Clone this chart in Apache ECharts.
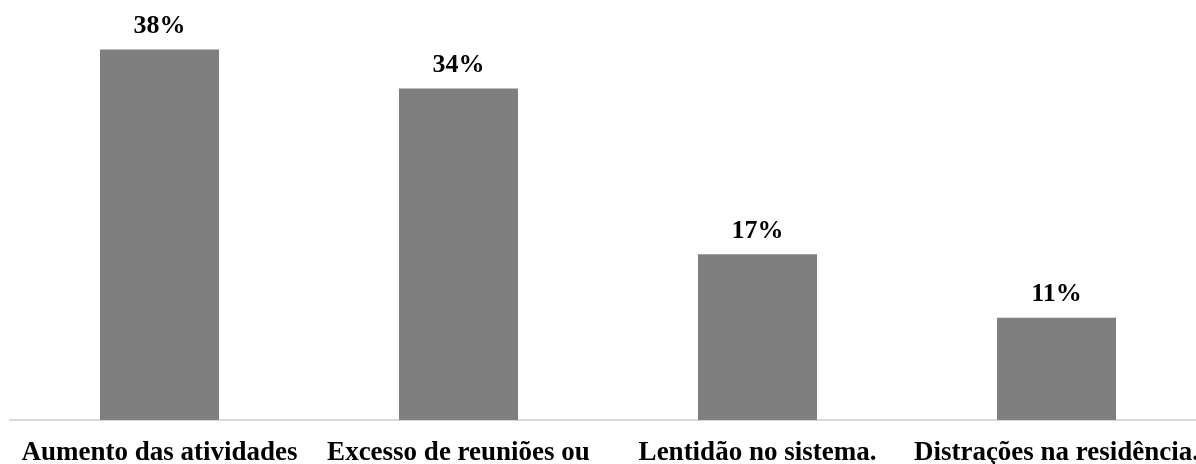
<!DOCTYPE html>
<html>
<head>
<meta charset="utf-8">
<script src="https://cdn.jsdelivr.net/npm/echarts@6/dist/echarts.min.js"></script>
<style>
html,body{margin:0;padding:0;background:#fff;}
#c{width:1196px;height:464px;}
</style>
</head>
<body>
<div id="c"></div>
<script>
const categories = ["Aumento das atividades", "Excesso de reuniões ou", "Lentidão no sistema.", "Distrações na residência."];
const values = [38, 34, 17, 10.5];

const chart = echarts.init(document.getElementById('c'), null, {renderer: 'canvas'});
chart.setOption({
  animation: false,
  grid: {left: 10, right: -10, top: 30, bottom: 44, containLabel: false, outerBoundsMode: 'none'},
  xAxis: {
    type: 'category',
    data: categories,
    axisLine: {show: true, lineStyle: {color: '#d9d9d9', width: 2}},
    axisTick: {show: false},
    axisLabel: {
      interval: 0,
      margin: 20,
      color: '#000',
      fontFamily: '"Liberation Serif", "Times New Roman", serif',
      fontWeight: 'bold',
      fontSize: 27,
      verticalAlign: 'top'
    }
  },
  yAxis: {
    type: 'value',
    min: 0,
    max: 40,
    show: false,
    splitLine: {show: false}
  },
  series: [{
    type: 'bar',
    data: values,
    barWidth: 119,
    itemStyle: {color: '#7f7f7f'},
    label: {
      show: true,
      position: 'top',
      distance: 10,
      color: '#000',
      fontFamily: '"Liberation Serif", "Times New Roman", serif',
      fontWeight: 'bold',
      fontSize: 26,
      formatter: p => Math.round(p.value) + '%'
    }
  }]
});
</script>
</body>
</html>
